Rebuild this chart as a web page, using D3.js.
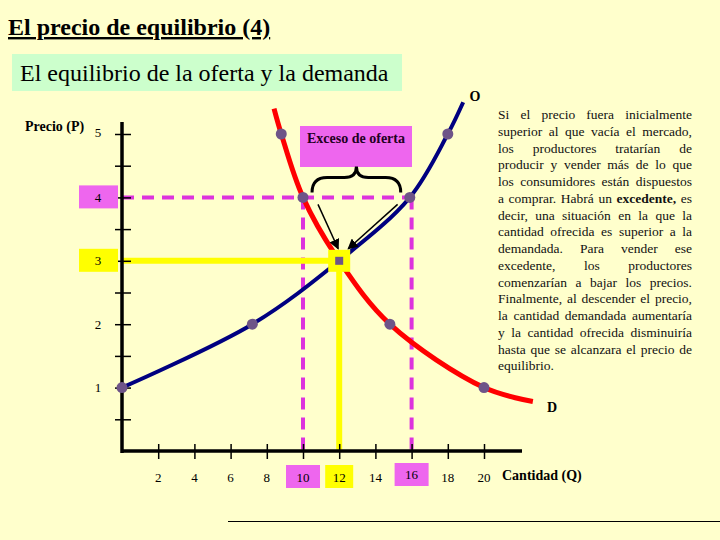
<!DOCTYPE html>
<html>
<head>
<meta charset="utf-8">
<script src="https://cdn.jsdelivr.net/npm/d3@7"></script>
<style>
  body { margin: 0; background: #FFFFCC; }
  #wrap { position: relative; width: 720px; height: 540px; background: #FFFFCC; overflow: hidden; }
  #nota { position: absolute; left: 498px; top: 107px; width: 194px; font-family: "Liberation Serif", "Times New Roman", serif; font-size: 13.5px; line-height: 16.75px; color: #111; }
  #nota div { text-align: justify; text-align-last: justify; }
  #nota div.last { text-align-last: left; }
</style>
</head>
<body>
<div id="wrap">
  <svg id="chart" width="720" height="540"></svg>
  <div id="nota"></div>
</div>
<script>
// datos del gráfico
const supplyQ = [0, 7.2, 12, 15.9, 18, 18.85];
const supplyP = [1, 2, 3, 4, 5, 5.5];
const demandQ = [8.4, 8.8, 10, 12, 14.8, 20, 22.7];
const demandP = [5.4, 5, 4, 3, 2, 1, 0.78];
const supplyDotQ = [0, 7.2, 15.9, 18];
const supplyDotP = [1, 2, 4, 5];
const demandDotQ = [8.8, 10, 14.8, 20];
const demandDotP = [5, 4, 2, 1];
const qTicks = [2, 4, 6, 8, 10, 12, 14, 16, 18, 20];
const pTicks = [1, 2, 3, 4, 5];
const pHalfTicks = [0.5, 1, 1.5, 2, 2.5, 3, 3.5, 4, 4.5, 5];
const eqQ = 12, eqP = 3;
const highP = 4, lowQ = 10, highQ = 16;
const highlightP = { 4: '#EE66EE', 3: '#FFFF00' };
const highlightQ = { 10: '#EE66EE', 12: '#FFFF00', 16: '#EE66EE' };

const lines = [
  'Si el precio fuera inicialmente',
  'superior al que vacía el mercado,',
  'los productores tratarían de',
  'producir y vender más de lo que',
  'los consumidores están dispuestos',
  'a comprar. Habrá un <b>excedente,</b> es',
  'decir, una situación en la que la',
  'cantidad ofrecida es superior a la',
  'demandada. Para vender ese',
  'excedente, los productores',
  'comenzarían a bajar los precios.',
  'Finalmente, al descender el precio,',
  'la cantidad demandada aumentaría',
  'y la cantidad ofrecida disminuiría',
  'hasta que se alcanzara el precio de',
  'equilibrio.'
];

const serif = '"Liberation Serif", "Times New Roman", serif';
const svg = d3.select('#chart');

// Título y subtítulo
svg.append('text')
  .attr('x', 8).attr('y', 35)
  .attr('font-family', serif).attr('font-size', 24).attr('font-weight', 'bold')
  .attr('text-decoration', 'underline')
  .text('El precio de equilibrio (4)');

svg.append('rect')
  .attr('x', 12).attr('y', 54).attr('width', 390).attr('height', 37)
  .attr('fill', '#CCFFCC');
svg.append('text')
  .attr('x', 20).attr('y', 81)
  .attr('font-family', serif).attr('font-size', 24)
  .text('El equilibrio de la oferta y la demanda');

// Escalas
const x = d3.scaleLinear().domain([0, 20]).range([122, 484]);
const y = d3.scaleLinear().domain([0, 5]).range([451, 134]);

// Líneas de referencia
const dash = '12,8';
svg.append('line')
  .attr('x1', x(0)).attr('x2', x(highQ)).attr('y1', y(highP)).attr('y2', y(highP))
  .attr('stroke', '#DD33DD').attr('stroke-width', 4).attr('stroke-dasharray', dash);
[lowQ, highQ].forEach(q => {
  svg.append('line')
    .attr('x1', x(q)).attr('x2', x(q)).attr('y1', y(highP)).attr('y2', y(0))
    .attr('stroke', '#DD33DD').attr('stroke-width', 4).attr('stroke-dasharray', dash);
});
svg.append('line')
  .attr('x1', x(0)).attr('x2', x(eqQ)).attr('y1', y(eqP)).attr('y2', y(eqP))
  .attr('stroke', '#FFFF00').attr('stroke-width', 6);
svg.append('line')
  .attr('x1', x(eqQ)).attr('x2', x(eqQ)).attr('y1', y(eqP)).attr('y2', y(0))
  .attr('stroke', '#FFFF00').attr('stroke-width', 6);

// Ejes
const xAxis = svg.append('g')
  .attr('transform', `translate(0,${y(0)})`)
  .call(d3.axisBottom(x).tickValues(qTicks).tickSizeOuter(0).tickFormat(''));
xAxis.select('.domain').remove();
xAxis.selectAll('.tick line').attr('y1', -7).attr('y2', 8).attr('stroke-width', 1.5);

const yAxis = svg.append('g')
  .attr('transform', `translate(${x(0)},0)`)
  .call(d3.axisLeft(y).tickValues(pHalfTicks).tickSizeOuter(0).tickFormat(''));
yAxis.select('.domain').remove();
yAxis.selectAll('.tick line').attr('x1', -7).attr('x2', 9).attr('stroke-width', 1.5);

svg.append('line').attr('x1', x(0)).attr('x2', 522).attr('y1', y(0)).attr('y2', y(0))
  .attr('stroke', '#000').attr('stroke-width', 3.5);
svg.append('line').attr('x1', x(0)).attr('x2', x(0)).attr('y1', 122).attr('y2', y(0) + 2)
  .attr('stroke', '#000').attr('stroke-width', 3.5);

// Etiquetas de ejes
pTicks.forEach(p => {
  const g = svg.append('g').attr('transform', `translate(98,${y(p)})`);
  if (highlightP[p]) {
    g.append('rect').attr('x', -19).attr('y', -12).attr('width', 39).attr('height', 23)
      .attr('fill', highlightP[p]);
  }
  g.append('text').attr('text-anchor', 'middle').attr('dy', p === 5 ? '0.2em' : '0.35em')
    .attr('font-family', serif).attr('font-size', 13).text(p);
});
qTicks.forEach(q => {
  const g = svg.append('g').attr('transform', `translate(${x(q)},477)`);
  if (highlightQ[q]) {
    const w = q === 12 ? 28 : 34;
    g.append('rect').attr('x', -w / 2).attr('y', q === 16 ? -14 : -12).attr('width', w).attr('height', 23)
      .attr('fill', highlightQ[q]);
  }
  g.append('text').attr('text-anchor', 'middle').attr('dy', q === 16 ? '0.15em' : '0.35em')
    .attr('font-family', serif).attr('font-size', 13).text(q);
});

svg.append('text').attr('x', 25).attr('y', 131)
  .attr('font-family', serif).attr('font-size', 14).attr('font-weight', 'bold')
  .text('Precio (P)');
svg.append('text').attr('x', 502).attr('y', 480)
  .attr('font-family', serif).attr('font-size', 14).attr('font-weight', 'bold')
  .text('Cantidad (Q)');

// Curvas
const curve = d3.line().x(d => x(d[0])).y(d => y(d[1])).curve(d3.curveCatmullRom.alpha(0.5));
svg.append('path')
  .attr('d', curve(supplyQ.map((q, i) => [q, supplyP[i]])))
  .attr('fill', 'none').attr('stroke', '#000080').attr('stroke-width', 4);
svg.append('path')
  .attr('d', curve(demandQ.map((q, i) => [q, demandP[i]])))
  .attr('fill', 'none').attr('stroke', '#FF0000').attr('stroke-width', 5);

// Puntos
const dots = supplyDotQ.map((q, i) => [q, supplyDotP[i]])
  .concat(demandDotQ.map((q, i) => [q, demandDotP[i]]));
svg.selectAll('circle.dot')
  .data(dots)
  .enter()
  .append('circle')
  .attr('class', 'dot')
  .attr('cx', d => x(d[0]))
  .attr('cy', d => y(d[1]))
  .attr('r', 5.5)
  .attr('fill', '#6E5488');

// Equilibrio
svg.append('rect')
  .attr('x', x(eqQ) - 11).attr('y', y(eqP) - 11).attr('width', 22).attr('height', 22)
  .attr('fill', '#FFFF00');
svg.append('rect')
  .attr('x', x(eqQ) - 4).attr('y', y(eqP) - 4).attr('width', 8).attr('height', 8)
  .attr('fill', '#6E5488');

// Exceso de oferta
svg.append('rect')
  .attr('x', 300).attr('y', 126).attr('width', 112).attr('height', 41)
  .attr('fill', '#EE66EE');
svg.append('text').attr('x', 356).attr('y', 143)
  .attr('text-anchor', 'middle')
  .attr('font-family', serif).attr('font-size', 14).attr('font-weight', 'bold').attr('fill', '#220022')
  .text('Exceso de oferta');

// Llave
const bl = x(10.5), br = x(15.4), bm = (bl + br) / 2;
const bb = y(highP) - 5, bt = bb - 15, bp = bt - 11;
svg.append('path')
  .attr('d', `M${bl},${bb} Q${bl},${bt} ${bl + 15},${bt} L${bm - 12},${bt} Q${bm},${bt} ${bm},${bp} ` +
             `Q${bm},${bt} ${bm + 12},${bt} L${br - 15},${bt} Q${br},${bt} ${br},${bb}`)
  .attr('fill', 'none').attr('stroke', '#000').attr('stroke-width', 3);

// Flechas
svg.append('defs').append('marker')
  .attr('id', 'arrow').attr('viewBox', '0 0 10 10').attr('refX', 9).attr('refY', 5)
  .attr('markerWidth', 7).attr('markerHeight', 7).attr('orient', 'auto')
  .append('path').attr('d', 'M0,0 L10,5 L0,10 z').attr('fill', '#000');
svg.append('line')
  .attr('x1', x(lowQ) + 15).attr('y1', y(highP) + 7)
  .attr('x2', x(eqQ) - 1).attr('y2', y(eqP) - 12)
  .attr('stroke', '#000').attr('stroke-width', 1.5).attr('marker-end', 'url(#arrow)');
svg.append('line')
  .attr('x1', x(highQ) - 14).attr('y1', y(highP) + 7)
  .attr('x2', x(eqQ) + 9).attr('y2', y(eqP) - 12)
  .attr('stroke', '#000').attr('stroke-width', 1.5).attr('marker-end', 'url(#arrow)');

// Nombres de curvas
svg.append('text').attr('x', 475).attr('y', 101).attr('text-anchor', 'middle')
  .attr('font-family', serif).attr('font-size', 14).attr('font-weight', 'bold').text('O');
svg.append('text').attr('x', 552).attr('y', 412).attr('text-anchor', 'middle')
  .attr('font-family', serif).attr('font-size', 14).attr('font-weight', 'bold').text('D');

// Línea inferior
svg.append('line').attr('x1', 228).attr('x2', 720).attr('y1', 521.5).attr('y2', 521.5)
  .attr('stroke', '#000').attr('stroke-width', 1);

// Texto explicativo
d3.select('#nota').selectAll('div')
  .data(lines)
  .enter()
  .append('div')
  .attr('class', (d, i) => i === lines.length - 1 ? 'last' : null)
  .html(d => d);
</script>
</body>
</html>
